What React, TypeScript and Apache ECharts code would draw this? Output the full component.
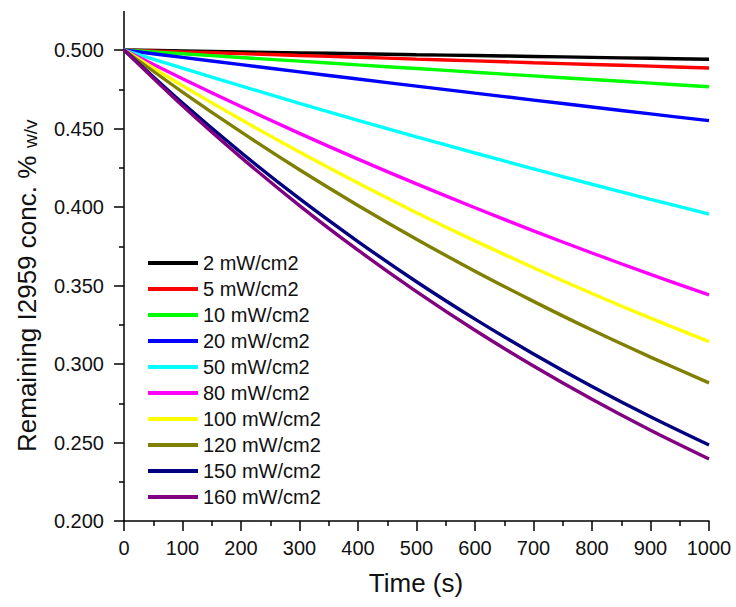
import React, { useEffect, useRef } from "react";
import * as echarts from "echarts";

const times = [0, 100, 200, 300, 400, 500, 600, 700, 800, 900, 1000];
const seriesNames = ["2 mW/cm2", "5 mW/cm2", "10 mW/cm2", "20 mW/cm2", "50 mW/cm2", "80 mW/cm2", "100 mW/cm2", "120 mW/cm2", "150 mW/cm2", "160 mW/cm2"];
const seriesColors = ["#000000", "#ff0000", "#00ff00", "#0000ff", "#00ffff", "#ff00ff", "#ffff00", "#808000", "#000080", "#800080"];

const c2 = [0.5, 0.4994, 0.4988, 0.4982, 0.4976, 0.4970, 0.4965, 0.4959, 0.4953, 0.4947, 0.4941];
const c5 = [0.5, 0.4988, 0.4977, 0.4965, 0.4954, 0.4942, 0.4931, 0.4919, 0.4908, 0.4897, 0.4885];
const c10 = [0.5, 0.4976, 0.4952, 0.4929, 0.4905, 0.4882, 0.4858, 0.4835, 0.4812, 0.4789, 0.4766];
const c20 = [0.5, 0.4953, 0.4907, 0.4861, 0.4815, 0.4770, 0.4725, 0.4681, 0.4637, 0.4593, 0.4550];
const c50 = [0.5, 0.4884, 0.4771, 0.4660, 0.4552, 0.4447, 0.4344, 0.4243, 0.4145, 0.4049, 0.3955];
const c80 = [0.5, 0.4817, 0.4640, 0.4469, 0.4305, 0.4147, 0.3995, 0.3848, 0.3707, 0.3571, 0.3440];
const c100 = [0.5, 0.4773, 0.4557, 0.4350, 0.4153, 0.3964, 0.3784, 0.3613, 0.3449, 0.3292, 0.3143];
const c120 = [0.5, 0.4732, 0.4478, 0.4237, 0.4010, 0.3795, 0.3591, 0.3399, 0.3216, 0.3044, 0.2880];
const c150 = [0.5, 0.4662, 0.4347, 0.4053, 0.3780, 0.3524, 0.3286, 0.3064, 0.2857, 0.2664, 0.2484];
const c160 = [0.5, 0.4645, 0.4316, 0.4009, 0.3725, 0.3461, 0.3215, 0.2987, 0.2775, 0.2578, 0.2395];
const seriesValues = [c2, c5, c10, c20, c50, c80, c100, c120, c150, c160];

const xTicks = { min: 0, max: 1000, interval: 100 };
const yTicks = { min: 0.2, max: 0.5, interval: 0.05 };

const FONT = "'Liberation Sans', Arial, sans-serif";

export default function App() {
  const ref = useRef<HTMLDivElement>(null);
  useEffect(() => {
    if (!ref.current) return;
    const chart = echarts.init(ref.current, undefined, { renderer: "svg" });
    const axisCommon = {
      axisLine: { show: true, lineStyle: { color: "#000", width: 1.5 } },
      axisTick: { show: true, inside: false, length: 10, lineStyle: { color: "#000", width: 1.5 } },
      minorTick: { show: true, splitNumber: 2, length: 5, lineStyle: { color: "#000", width: 1.5 } },
      splitLine: { show: false },
      minorSplitLine: { show: false },
    };
    chart.setOption({
      animation: false,
      backgroundColor: "#ffffff",
      grid: { left: 124, right: 27, top: 50, bottom: 86 },
      xAxis: {
        type: "value",
        min: xTicks.min,
        max: xTicks.max,
        interval: xTicks.interval,
        ...axisCommon,
        axisLabel: {
          color: "#111",
          fontSize: 20,
          fontFamily: FONT,
          margin: 17,
          formatter: (v: number) => String(v),
        },
      },
      yAxis: {
        type: "value",
        min: yTicks.min,
        max: yTicks.max,
        interval: yTicks.interval,
        ...axisCommon,
        axisLabel: {
          color: "#111",
          fontSize: 20,
          fontFamily: FONT,
          margin: 20,
          formatter: (v: number) => v.toFixed(3),
        },
      },
      legend: {
        orient: "vertical",
        left: 148,
        top: 253,
        padding: 0,
        itemWidth: 50,
        itemHeight: 4,
        itemGap: 6,
        icon: "rect",
        textStyle: { fontSize: 20, fontFamily: FONT, color: "#111", lineHeight: 20 },
        data: seriesNames,
      },
      graphic: [
        {
          type: "line",
          shape: { x1: 124, y1: 11, x2: 124, y2: 51 },
          style: { stroke: "#000", lineWidth: 1.5 },
        },
        {
          type: "text",
          x: 27,
          y: 452,
          rotation: Math.PI / 2,
          style: {
            text: "Remaining I2959 conc. % ",
            align: "left",
            verticalAlign: "middle",
            fontSize: 26,
            fontFamily: FONT,
            fill: "#111",
          },
        },
        {
          type: "text",
          x: 30,
          y: 148,
          rotation: Math.PI / 2,
          style: {
            text: "w/v",
            align: "left",
            verticalAlign: "middle",
            fontSize: 19,
            fontFamily: FONT,
            fill: "#111",
          },
        },
        {
          type: "text",
          x: 416,
          y: 583,
          style: {
            text: "Time (s)",
            align: "center",
            verticalAlign: "middle",
            fontSize: 26,
            fontFamily: FONT,
            fill: "#111",
          },
        },
      ],
      series: seriesNames.map((name, i) => ({
        name,
        type: "line",
        data: times.map((t, j) => [t, seriesValues[i][j]]),
        symbol: "none",
        smooth: 0.3,
        clip: false,
        color: seriesColors[i],
        lineStyle: { width: 3.4, color: seriesColors[i] },
      })),
    });
    return () => chart.dispose();
  }, []);
  return <div ref={ref} style={{ position: "absolute", left: 0, top: 0, width: 736, height: 607 }} />;
}
